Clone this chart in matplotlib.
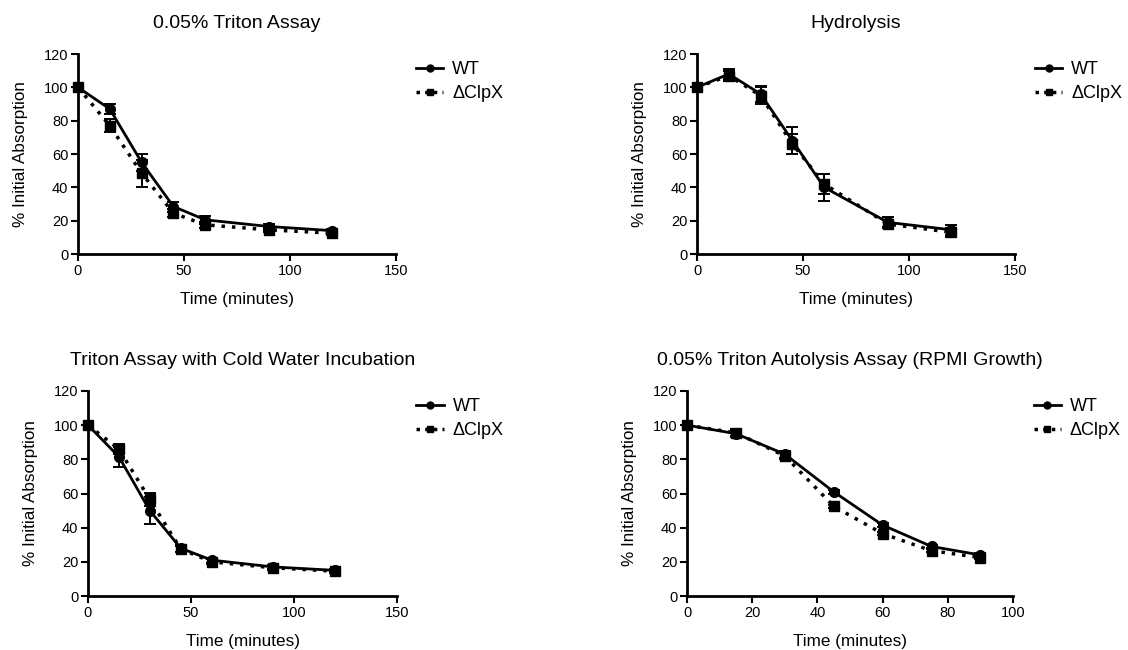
import matplotlib
matplotlib.use("Agg")
import matplotlib.pyplot as plt
from matplotlib.lines import Line2D

plt.rcParams['font.family'] = ['Liberation Sans', 'DejaVu Sans']

# panel data
titles = ["0.05% Triton Assay", "Hydrolysis",
          "Triton Assay with Cold Water Incubation",
          "0.05% Triton Autolysis Assay (RPMI Growth)"]

t_a = [0, 15, 30, 45, 60, 90, 120]
wt_a = [100, 87, 55, 28.5, 20.5, 16.5, 14]
wt_a_err = [0, 3, 5, 3, 2.5, 1.5, 1]
ko_a = [100, 77, 48.5, 24.5, 17.5, 14.5, 12.5]
ko_a_err = [0, 4, 8, 2.5, 2, 1.5, 1]

t_b = [0, 15, 30, 45, 60, 90, 120]
wt_b = [100, 108, 96, 68, 40, 19, 14.5]
wt_b_err = [0, 3, 5, 8, 8, 3, 3]
ko_b = [100, 107, 95, 66, 42, 18, 13]
ko_b_err = [0, 3, 5, 6, 6, 2.5, 2.5]

t_c = [0, 15, 30, 45, 60, 90, 120]
wt_c = [100, 81.5, 50, 28, 21, 17, 15]
wt_c_err = [0, 6, 8, 2, 1.5, 1, 1]
ko_c = [100, 86, 56.5, 27.5, 20, 16.5, 14.5]
ko_c_err = [0, 3, 4, 2, 1.5, 1, 1]

t_d = [0, 15, 30, 45, 60, 75, 90]
wt_d = [100, 95, 83, 61, 41.5, 29, 24]
wt_d_err = [0, 2, 2, 1, 1, 1, 1]
ko_d = [100, 95.5, 82, 52.5, 36.5, 26.5, 22.5]
ko_d_err = [0, 2, 2, 1, 1, 1, 1]

xmax = [150, 150, 150, 100]
xticks = [[0, 50, 100, 150], [0, 50, 100, 150], [0, 50, 100, 150], [0, 20, 40, 60, 80, 100]]

panels = [(t_a, wt_a, wt_a_err, ko_a, ko_a_err),
          (t_b, wt_b, wt_b_err, ko_b, ko_b_err),
          (t_c, wt_c, wt_c_err, ko_c, ko_c_err),
          (t_d, wt_d, wt_d_err, ko_d, ko_d_err)]

# axes boxes in figure fractions [left, bottom, width, height]
W, H = 1128, 650
boxes = [[78 / W, 1 - 254 / H, 318 / W, 200 / H],
         [697 / W, 1 - 254 / H, 318 / W, 200 / H],
         [88 / W, 1 - 596 / H, 309 / W, 205 / H],
         [687 / W, 1 - 596 / H, 326 / W, 205 / H]]

fig = plt.figure(figsize=(11.28, 6.5), dpi=100)

for i, (t, wt, wte, ko, koe) in enumerate(panels):
    ax = fig.add_axes(boxes[i])
    ax.errorbar(t, wt, yerr=wte, color='black', lw=2, marker='o', ms=7,
                capsize=4, elinewidth=1.4, capthick=1.4, ls='-', label='WT',
                clip_on=False, zorder=3)
    ax.errorbar(t, ko, yerr=koe, color='black', lw=2.5, marker='s', ms=7,
                capsize=4, elinewidth=1.4, capthick=1.4, ls=(0, (1, 2)), label='\u0394ClpX',
                clip_on=False, zorder=3)
    ax.set_xlim(0, xmax[i])
    ax.set_ylim(0, 120)
    ax.set_xticks(xticks[i])
    ax.set_yticks(range(0, 121, 20))
    for s in ['top', 'right']:
        ax.spines[s].set_visible(False)
    for s in ['left', 'bottom']:
        ax.spines[s].set_linewidth(2)
    ax.tick_params(direction='out', length=5, width=1.5, labelsize=10.5, pad=2)
    ax.set_title(titles[i], fontsize=14, pad=19)
    ax.set_xlabel('Time (minutes)', fontsize=12.3, labelpad=10)
    ax.set_ylabel('% Initial Absorption', fontsize=12.3, labelpad=11)

    handles = [Line2D([], [], color='black', lw=2, marker='o', ms=5, ls='-'),
               Line2D([], [], color='black', lw=2.5, marker='s', ms=5, ls=(0, (1, 1.5)))]
    ax.legend(handles, ['WT', '\u0394ClpX'], loc='upper left',
              bbox_to_anchor=(1.063, 0.965), frameon=False, fontsize=13,
              handlelength=1.5, handletextpad=0.5, labelspacing=0.38,
              borderaxespad=0, borderpad=0)

fig.savefig('out.png', dpi=100)
